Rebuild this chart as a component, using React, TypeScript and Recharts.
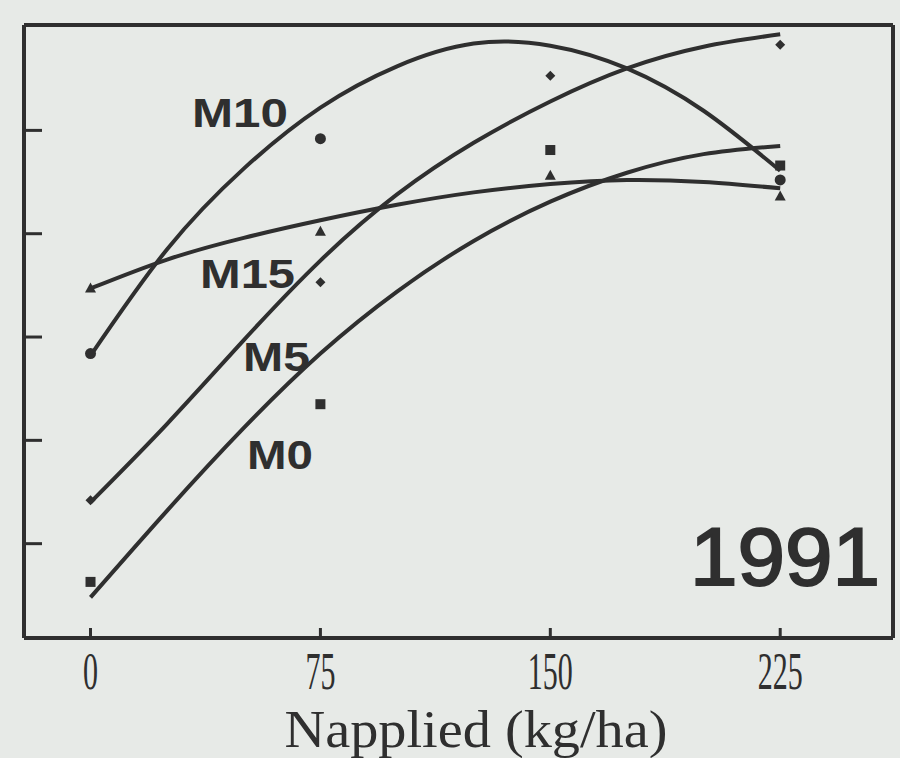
import { ComposedChart, Line, Scatter, XAxis, YAxis } from 'recharts';

const nApplied = [0, 75, 150, 225];
const m0Obs = [0.63, 2.35, 4.81, 4.66];
const m5Obs = [1.42, 3.53, 5.53, 5.83];
const m10Obs = [2.84, 4.92, null, 4.52];
const m15Obs = [3.47, 4.02, 4.56, 4.36];

// fitted response curves, every 25 kg/ha
const fitN = [0, 25, 50, 75, 100, 125, 150, 175, 200, 225];
const m0Fit = [0.48, 1.32, 2.12, 2.84, 3.44, 3.93, 4.31, 4.59, 4.77, 4.85];
const m5Fit = [1.4, 2.16, 2.97, 3.74, 4.38, 4.88, 5.28, 5.6, 5.81, 5.93];
const m10Fit = [2.82, 3.85, 4.63, 5.22, 5.62, 5.84, 5.82, 5.6, 5.19, 4.61];
const m15Fit = [3.47, 3.75, 3.96, 4.13, 4.28, 4.4, 4.48, 4.52, 4.5, 4.44];

const xTicks = [0, 75, 150, 225];
const yTicks = [1, 2, 3, 4, 5];
const xDomain = [-21.7, 261.8];
const yDomain = [0.087, 6.02];

const ink = '#2f2f2f';
const bg = '#e7eae7';

const toRows = (xs: number[], ys: (number | null)[]) =>
  xs.map((n, i) => ({ n, v: ys[i] })).filter((r) => r.v != null);

const SquareMark = ({ cx, cy }: any) => (
  <rect x={cx - 5} y={cy - 5} width={10} height={10} fill={ink} />
);
const DiamondMark = ({ cx, cy }: any) => (
  <polygon points={`${cx},${cy - 5} ${cx + 5},${cy} ${cx},${cy + 5} ${cx - 5},${cy}`} fill={ink} />
);
const DotMark = ({ cx, cy }: any) => <circle cx={cx} cy={cy} r={5.5} fill={ink} />;
const TriMark = ({ cx, cy }: any) => (
  <polygon points={`${cx},${cy - 6} ${cx + 5.5},${cy + 4} ${cx - 5.5},${cy + 4}`} fill={ink} />
);

const XTick = ({ x, y, payload }: any) => {
  const s = String(payload.value);
  return (
    <g>
      <line x1={x} x2={x} y1={y} y2={y - 10} stroke={ink} strokeWidth={3} />
      <text
        x={x}
        y={y + 51}
        textAnchor="middle"
        fontFamily="Liberation Serif"
        fontSize={52}
        fill={ink}
        textLength={15 * s.length}
        lengthAdjust="spacingAndGlyphs"
      >
        {s}
      </text>
    </g>
  );
};

const YTick = ({ x, y }: any) => (
  <line x1={x} x2={x + 18} y1={y} y2={y} stroke={ink} strokeWidth={3} />
);

const curveProps = {
  type: 'natural' as const,
  dataKey: 'v',
  stroke: ink,
  strokeWidth: 4,
  dot: false,
  activeDot: false,
  isAnimationActive: false,
};

const seriesLabels = [
  { text: 'M10', x: 192, y: 127, w: 96 },
  { text: 'M15', x: 200, y: 288, w: 95 },
  { text: 'M5', x: 243, y: 371, w: 67 },
  { text: 'M0', x: 247, y: 469, w: 66 },
];

export default function App() {
  const frame = { stroke: ink, strokeWidth: 4 };
  return (
    <div style={{ position: 'absolute', left: 0, top: 0, width: 900, height: 758, background: bg }}>
      <ComposedChart width={900} height={758} margin={{ top: 24, right: 6, bottom: 119, left: 23 }}>
        <XAxis
          dataKey="n"
          type="number"
          domain={xDomain}
          allowDataOverflow
          ticks={xTicks}
          interval={0}
          height={1}
          tickLine={false}
          tickSize={0}
          tickMargin={0}
          tick={<XTick />}
          axisLine={frame}
        />
        <XAxis
          xAxisId="top"
          orientation="top"
          type="number"
          domain={xDomain}
          allowDataOverflow
          height={1}
          tick={false}
          tickLine={false}
          axisLine={frame}
        />
        <YAxis
          type="number"
          domain={yDomain}
          allowDataOverflow
          ticks={yTicks}
          interval={0}
          width={1}
          tickLine={false}
          tickSize={0}
          tickMargin={0}
          tick={<YTick />}
          axisLine={frame}
        />
        <YAxis
          yAxisId="right"
          orientation="right"
          type="number"
          domain={yDomain}
          allowDataOverflow
          width={1}
          tick={false}
          tickLine={false}
          axisLine={frame}
        />
        <Line data={toRows(fitN, m0Fit)} {...curveProps} />
        <Line data={toRows(fitN, m5Fit)} {...curveProps} />
        <Line data={toRows(fitN, m10Fit)} {...curveProps} />
        <Line data={toRows(fitN, m15Fit)} {...curveProps} />
        <Scatter data={toRows(nApplied, m0Obs)} dataKey="v" shape={<SquareMark />} isAnimationActive={false} />
        <Scatter data={toRows(nApplied, m5Obs)} dataKey="v" shape={<DiamondMark />} isAnimationActive={false} />
        <Scatter data={toRows(nApplied, m10Obs)} dataKey="v" shape={<DotMark />} isAnimationActive={false} />
        <Scatter data={toRows(nApplied, m15Obs)} dataKey="v" shape={<TriMark />} isAnimationActive={false} />
      </ComposedChart>
      <svg
        width={900}
        height={758}
        style={{ position: 'absolute', left: 0, top: 0, pointerEvents: 'none' }}
      >
        {seriesLabels.map((l) => (
          <text
            key={l.text}
            x={l.x}
            y={l.y}
            fontFamily="Liberation Sans"
            fontWeight="bold"
            fontSize={41}
            fill={ink}
            textLength={l.w}
            lengthAdjust="spacingAndGlyphs"
          >
            {l.text}
          </text>
        ))}
        <text
          x={690}
          y={585}
          fontFamily="Liberation Sans"
          fontSize={81}
          fill={ink}
          stroke={ink}
          strokeWidth={2}
          textLength={190}
          lengthAdjust="spacingAndGlyphs"
        >
          1991
        </text>
        <text
          x={476}
          y={747}
          textAnchor="middle"
          fontFamily="Liberation Serif"
          fontSize={52}
          fill={ink}
          textLength={383}
          lengthAdjust="spacingAndGlyphs"
        >
          Napplied (kg/ha)
        </text>
      </svg>
    </div>
  );
}
